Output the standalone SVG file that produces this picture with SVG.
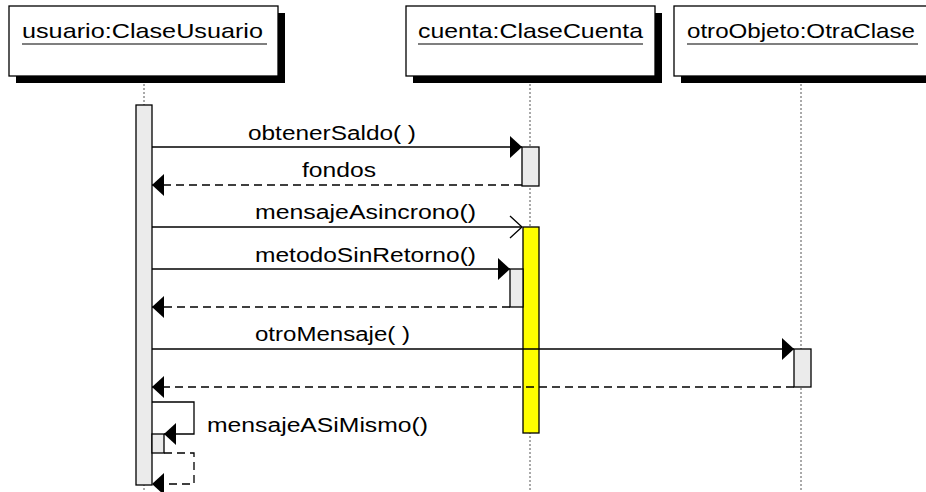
<svg xmlns="http://www.w3.org/2000/svg" width="926" height="492" viewBox="0 0 926 492">
<defs>
<style>
.box{fill:#fff;stroke:#000;stroke-width:1.3}
.shadow{fill:#000}
.hdr{font-family:"Liberation Sans",Arial,sans-serif;font-size:21px;fill:#000}
.ul{stroke:#000;stroke-width:1.2}
.life{stroke:#555;stroke-width:1;stroke-dasharray:2 2;fill:none}
.act{fill:#ebebeb;stroke:#000;stroke-width:1.3}
.actY{fill:#ffff00;stroke:#000;stroke-width:1.3}
.msg{stroke:#000;stroke-width:1.3;fill:none}
.ret{stroke:#000;stroke-width:1.3;fill:none;stroke-dasharray:8 5}
.lbl{font-family:"Liberation Sans",Arial,sans-serif;font-size:20px;fill:#000}
</style>
<marker id="filled" markerUnits="userSpaceOnUse" markerWidth="13" markerHeight="23" refX="12" refY="11" orient="auto" overflow="visible">
<path d="M0,0 L12,11 L0,22 z" fill="#000" stroke="none"/>
</marker>
<marker id="open" markerUnits="userSpaceOnUse" markerWidth="13" markerHeight="23" refX="12" refY="11" orient="auto" overflow="visible">
<path d="M0,0 L12,11 L0,22" fill="none" stroke="#000" stroke-width="1.3"/>
</marker>
</defs>

<g id="usuario">
<line class="life" x1="144" y1="76" x2="144" y2="492"/>
<rect class="shadow" x="16" y="13" width="269" height="70"/>
<rect class="box" x="9" y="6" width="269" height="70"/>
<text class="hdr" x="22" y="38" textLength="241" lengthAdjust="spacingAndGlyphs">usuario:ClaseUsuario</text>
<line class="ul" x1="22" y1="44" x2="267" y2="44"/>
<rect class="act" x="136" y="105" width="16" height="380"/>
<rect class="act" x="152" y="434" width="12" height="19"/>
</g>

<g id="cuenta">
<line class="life" x1="530" y1="76" x2="530" y2="492"/>
<rect class="shadow" x="413" y="13" width="249" height="70"/>
<rect class="box" x="406" y="6" width="249" height="70"/>
<text class="hdr" x="418" y="38" textLength="225" lengthAdjust="spacingAndGlyphs">cuenta:ClaseCuenta</text>
<line class="ul" x1="418" y1="44" x2="643" y2="44"/>
<rect class="act" x="522" y="147" width="17" height="39"/>
<rect class="actY" x="523" y="227" width="16" height="206"/>
<rect class="act" x="510" y="269" width="13" height="38"/>
</g>

<g id="otroObjeto">
<line class="life" x1="801" y1="76" x2="801" y2="492"/>
<rect class="shadow" x="681" y="13" width="260" height="70"/>
<rect class="box" x="674" y="6" width="260" height="70"/>
<text class="hdr" x="687" y="38" textLength="228" lengthAdjust="spacingAndGlyphs">otroObjeto:OtraClase</text>
<line class="ul" x1="687" y1="44" x2="918" y2="44"/>
<rect class="act" x="794" y="349" width="17" height="38"/>
</g>

<g id="connectors">
<line class="msg" x1="152" y1="147" x2="522" y2="147" marker-end="url(#filled)"/>
<text class="lbl" x="248" y="140" textLength="168" lengthAdjust="spacingAndGlyphs">obtenerSaldo( )</text>

<line class="ret" x1="522" y1="185" x2="152" y2="185" marker-end="url(#filled)"/>
<text class="lbl" x="302" y="177" textLength="74" lengthAdjust="spacingAndGlyphs">fondos</text>

<line class="msg" x1="152" y1="227" x2="522" y2="227" marker-end="url(#open)"/>
<text class="lbl" x="255" y="219" textLength="221" lengthAdjust="spacingAndGlyphs">mensajeAsincrono()</text>

<line class="msg" x1="152" y1="269" x2="510" y2="269" marker-end="url(#filled)"/>
<text class="lbl" x="255" y="262" textLength="221" lengthAdjust="spacingAndGlyphs">metodoSinRetorno()</text>

<line class="ret" x1="510" y1="307" x2="152" y2="307" marker-end="url(#filled)"/>

<line class="msg" x1="152" y1="349" x2="794" y2="349" marker-end="url(#filled)"/>
<text class="lbl" x="255" y="341" textLength="155" lengthAdjust="spacingAndGlyphs">otroMensaje( )</text>

<line class="ret" x1="794" y1="387" x2="152" y2="387" marker-end="url(#filled)"/>

<polyline class="msg" points="152,402 194,402 194,434 164,434" marker-end="url(#filled)"/>
<text class="lbl" x="207" y="432" textLength="221" lengthAdjust="spacingAndGlyphs">mensajeASiMismo()</text>

<polyline class="ret" points="164,453 194,453 194,484 152,484" marker-end="url(#filled)"/>
</g>
</svg>
